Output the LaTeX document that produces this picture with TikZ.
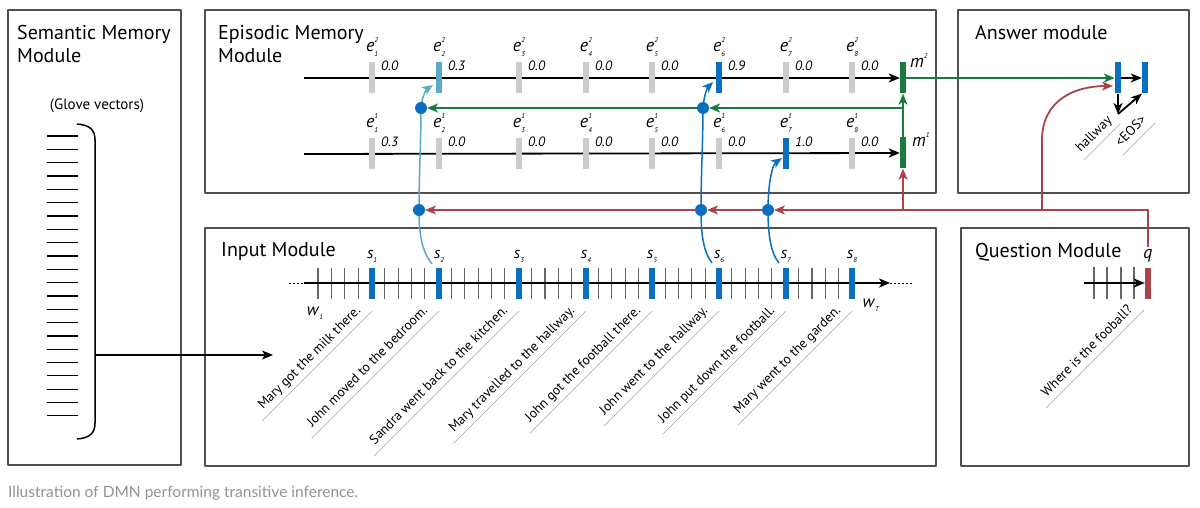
\documentclass[tikz,border=0pt]{standalone}
\usepackage{fontspec}
\setmainfont{PT Sans}
\newfontfamily\capfont{Lato}
\usetikzlibrary{arrows.meta}

\definecolor{barblue}{HTML}{0B6FC1}
\definecolor{barteal}{HTML}{5AAAC5}
\definecolor{bargray}{HTML}{CCCCCC}
\definecolor{memgreen}{HTML}{1B7B3E}
\definecolor{qred}{HTML}{A9434C}
\definecolor{boxgray}{HTML}{505050}

% italic letter with small super- and subscript
\newcommand{\ix}[3]{\textit{#1}\rlap{\raisebox{1.1ex}{\fontsize{7}{7}\selectfont\textit{#2}}}\raisebox{-0.55ex}{\fontsize{7}{7}\selectfont\textit{#3}}}

\tikzset{
    modbox/.style={draw=boxgray, line width=1.1pt},
    title/.style={anchor=base west, inner sep=0pt, font=\fontsize{20}{24}\selectfont},
    vbar/.style={fill=#1, minimum width=6pt, minimum height=31pt, inner sep=0pt},
    dot/.style={circle, fill=barblue, minimum size=12pt, inner sep=0pt},
    arr/.style={-{Stealth[length=11pt,width=9pt,inset=3pt]}},
    axis/.style={line width=1.8pt, black},
    tick/.style={line width=1.1pt, gray!80!black},
    greenline/.style={line width=1.8pt, memgreen},
    redline/.style={line width=1.8pt, qred},
    elbl/.style={anchor=base, inner sep=0pt, font=\fontsize{18}{18}\selectfont},
    val/.style={anchor=base west, inner sep=0pt, font=\fontsize{13.5}{13.5}\selectfont\itshape},
    diag/.style={rotate=45, anchor=south east, inner xsep=8pt, inner ysep=4pt, text depth=3pt, font=\fontsize{13.5}{13.5}\selectfont},
    uline/.style={line width=0.6pt, gray!70}
}

\begin{document}
\begin{tikzpicture}[x=1pt, y=-1pt, line join=round]
    \fill[white] (0,0) rectangle (1200,508);
    \useasboundingbox (0,0) rectangle (1200,508);

    % module boxes
    \draw[modbox] (8,10) rectangle (181,465);
    \draw[modbox] (205,10) rectangle (936,193);
    \draw[modbox] (958,10) rectangle (1189,193);
    \draw[modbox] (205,228) rectangle (936,466);
    \draw[modbox] (961,228) rectangle (1189,466);

    \node[title] (semA) at (17,40) {Semantic Memory};
    \node[title] (semB) at (17,63) {Module};
    \node[title] (epiA) at (218,40) {Episodic Memory};
    \node[title] (epiB) at (218,63) {Module};
    \node[title] (ansT) at (975,40) {Answer module};
    \node[title] (inpT) at (221,256) {Input Module};
    \node[title] (queT) at (975,257) {Question Module};

    % semantic memory
    \node[anchor=base, inner sep=0pt, font=\fontsize{15}{15}\selectfont] (glove) at (97,110) {(Glove vectors)};
    \foreach \i in {0,...,21}
        \draw[line width=1.1pt] (47,136+13.33*\i) -- (78,136+13.33*\i);
    \draw[line width=1.5pt] (77,124) .. controls (90,125) and (95,130) .. (95,140) -- (95,423) .. controls (95,433) and (90,438) .. (77,439);
    \coordinate (br) at (95,355);
    \coordinate (inp) at (273,355);
    \draw[line width=1.5pt, arr] (br) -- (inp);

    % input module
    \foreach \k in {0,...,40}
        \draw[tick] (318+13.35*\k,268) -- (318+13.35*\k,299);
    \coordinate (w0) at (304,283);
    \coordinate (wend) at (890,283);
    \draw[line width=0.8pt, dash pattern=on 2pt off 2pt] (289,283) -- (w0);
    \draw[line width=0.8pt, dash pattern=on 2pt off 2pt] (wend) -- (913,283);
    \draw[axis, arr] (w0) -- (wend);
    \foreach \i/\x/\txt in {1/372/Mary got the milk there., 2/439/John moved to the bedroom.,
            3/519/Sandra went back to the kitchen., 4/586/Mary travelled to the hallway.,
            5/652/John got the football there., 6/719/John went to the hallway.,
            7/786/John put down the football., 8/852/Mary went to the garden.} {
        \node[vbar=barblue] (s\i) at (\x,283) {};
        \node[elbl, font=\fontsize{16}{16}\selectfont] (ls\i) at (\x,258) {\ix{s}{}{\i}};
        \node[diag] (t\i) at (\x,311) {\txt};
        \draw[uline] (t\i.south east) -- (t\i.south west);
    }
    \node[elbl, font=\fontsize{17}{17}\selectfont] (w1) at (315,315) {\ix{w}{}{1}};
    \node[elbl, font=\fontsize{17}{17}\selectfont] (wT) at (871,307) {\ix{w}{}{T}};

    % question module
    \foreach \x in {1094,1107,1121,1134}
        \draw[tick] (\x,267) -- (\x,299);
    \node[vbar=qred] (q) at (1148,283) {};
    \coordinate (q0) at (1084,283);
    \draw[axis, arr] (q0) -- (q.west);
    \node[elbl, inner sep=2pt] (ql) at (1148,258) {\textit{q}};
    \node[diag] (tq) at (1144,310) {Where is the fooball?};
    \draw[uline] (tq.south east) -- (tq.south west);

    % episodic memory
    \coordinate (l2) at (304,78);
    \coordinate (l1) at (304,154);
    \node[vbar=memgreen] (m2) at (903,78) {};
    \node[vbar=memgreen] (m1) at (903,153) {};
    \draw[axis, arr] (l2) -- (m2.west);
    \draw[axis, arr] (l1) -- (m1.west);
    \node[anchor=base west, inner sep=0pt, font=\fontsize{18}{18}\selectfont] (lm2) at (910,68) {\ix{m}{2}{}};
    \node[anchor=base west, inner sep=0pt, font=\fontsize{18}{18}\selectfont] (lm1) at (912,147) {\ix{m}{1}{}};
    \foreach \i/\x/\va/\ca/\vb/\cb in {1/372/0.0/bargray/0.3/bargray, 2/439/0.3/barteal/0.0/bargray,
            3/519/0.0/bargray/0.0/bargray, 4/586/0.0/bargray/0.0/bargray,
            5/652/0.0/bargray/0.0/bargray, 6/719/0.9/barblue/0.0/bargray,
            7/786/0.0/bargray/1.0/barblue, 8/852/0.0/bargray/0.0/bargray} {
        \node[vbar=\ca] (e2\i) at (\x,78) {};
        \node[vbar=\cb] (e1\i) at (\x,154) {};
        \node[elbl] (le2\i) at (\x,52) {\ix{e}{2}{\i}};
        \node[elbl] (le1\i) at (\x,128) {\ix{e}{1}{\i}};
        \node[val] (v2\i) at (\x+9,71) {\va};
        \node[val] (v1\i) at (\x+9,147) {\vb};
    }

    % attention from the facts
    \coordinate (c2) at (432,264);
    \coordinate (c6) at (712,263);
    \coordinate (c7) at (779,263);
    \coordinate (in22) at (433,85);
    \coordinate (in26) at (713,82);
    \coordinate (in17) at (782,158);
    \coordinate (g2) at (421,108);
    \coordinate (g6) at (703,108);
    \coordinate (r2) at (419,210);
    \coordinate (r6) at (701,210);
    \coordinate (r7) at (768,210);
    \draw[line width=1.5pt, barteal, arr] (c2) .. controls (421,250) and (419,232) .. (r2) .. controls (419,175) and (421,140) .. (g2) .. controls (422,95) and (427,89) .. (in22);
    \draw[line width=1.5pt, barblue, arr] (c6) .. controls (703,252) and (701,232) .. (r6) .. controls (701,175) and (703,140) .. (g6) .. controls (704,94) and (708,87) .. (in26);
    \draw[line width=1.5pt, barblue, arr] (c7) .. controls (770,252) and (768,232) .. (r7) .. controls (768,185) and (772,165) .. (in17);

    % question vector
    \coordinate (rm) at (903,210);
    \coordinate (ra) at (1042,210);
    \coordinate (ain) at (1113,86);
    \draw[redline, arr] (ql.north) |- ([xshift=6pt]r7);
    \draw[redline, arr] (r7) -- ([xshift=6pt]r6);
    \draw[redline, arr] (r6) -- ([xshift=6pt]r2);
    \draw[redline, arr] (rm) -- (m1.south);
    \draw[redline, arr] (ra) -- (1042,140) .. controls (1042,100) and (1075,86) .. (ain);

    % memory updates
    \coordinate (gm) at (903,108);
    \draw[greenline, arr] (m1.north) -- (m2.south);
    \draw[greenline, arr] (gm) -- ([xshift=6pt]g6);
    \draw[greenline, arr] (g6) -- ([xshift=6pt]g2);

    \foreach \d in {g2,g6,r2,r6,r7}
        \node[dot] (dot\d) at (\d) {};

    % answer module
    \node[vbar=barblue] (a1) at (1118,78) {};
    \node[vbar=barblue] (a2) at (1145,78) {};
    \draw[greenline, arr] (m2.east) -- (a1.west);
    \coordinate (ad) at (1118,114);
    \draw[line width=1.8pt, arr] (a1.east) -- (a2.west);
    \draw[line width=1.8pt, arr] (a1.south) -- (ad);
    \draw[line width=1.8pt, arr] (ad) -- (a2.south west);
    \node[diag, inner xsep=3pt] (th) at (1120,124) {hallway};
    \draw[uline] (th.south east) -- (th.south west);
    \node[diag, inner xsep=4pt] (te) at (1155,123) {<EOS>};
    \draw[uline] (te.south east) -- (te.south west);

    % caption
    \node[anchor=base west, inner sep=0pt, font=\capfont\fontsize{15.5}{15.5}\selectfont, text=gray!85] (cap) at (8,497) {Illustration of DMN performing transitive inference.};
\end{tikzpicture}
\end{document}
